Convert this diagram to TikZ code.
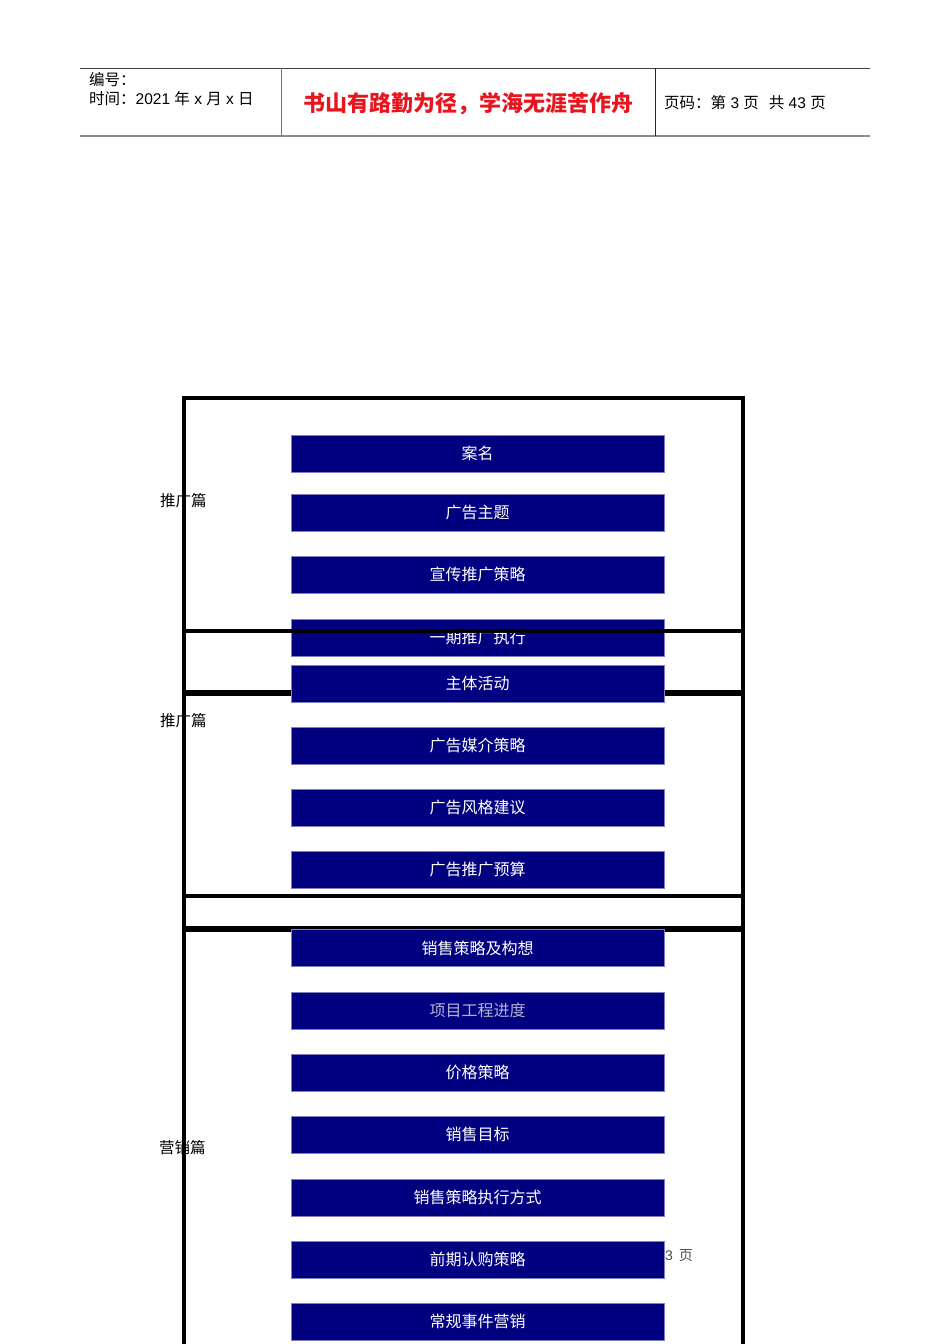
\documentclass[tikz,border=0pt]{standalone}
\usepackage{fontspec}
\setmainfont{Noto Sans CJK SC}
\newfontfamily\latinfont{Liberation Sans}
\usetikzlibrary{positioning}
\definecolor{barblue}{HTML}{000080}
\definecolor{barline}{HTML}{8080C0}
\definecolor{titlered}{HTML}{E8141E}

\tikzset{
  bar/.style={draw=barline, fill=barblue, text=white, minimum width=373pt,
    minimum height=37pt, inner sep=0pt, font=\fontsize{16}{16}\selectfont},
  frame/.style={black, line width=4pt},
  side/.style={anchor=west, inner sep=0pt, font=\fontsize{15.5}{15.5}\selectfont},
  head/.style={anchor=west, inner sep=0pt, font=\fontsize{15.5}{15.5}\selectfont}
}

\begin{document}
\begin{tikzpicture}[x=1pt,y=-1pt]
\useasboundingbox (0,0) rectangle (950,1344);

% header
\draw[black!75, line width=1pt] (80,68)--(870,68);
\draw[black!45, line width=1.6pt] (80,136)--(870,136);
\draw[black!55, line width=1pt] (281,68)--(281,136);
\draw[black!85, line width=1pt] (655,68)--(655,136);

\node[head] (num) at (89,80) {编号：};
\node[head] (date) at (89,99) {时间：{\latinfont 2021 }年{\latinfont\ x }月{\latinfont\ x }日};
\node[anchor=center, inner sep=0pt, text=titlered, font=\fontsize{22}{22}\selectfont\bfseries] (motto) at (468,104) {书山有路勤为径，学海无涯苦作舟};
\node[head] (page) at (664,103) {页码：第{\latinfont\ 3 }页\hspace{10pt}共{\latinfont\ 43 }页};

% section labels
\node[side] (promo1) at (160,501) {推广篇};
\node[side] (promo2) at (160,721) {推广篇};
\node[side] (sales) at (159,1148) {营销篇};
\node[anchor=west, inner sep=0pt, text=black!70, font=\fontsize{14}{14}\selectfont] (foot) at (665,1256) {{\latinfont 3}\hspace{6pt}页};

% first part bars
\node[bar] (b1) at (477.5,453.5) {案名};
\node[bar] (b2) at (477.5,512.5) {广告主题};
\node[bar] (b3) at (477.5,574.5) {宣传推广策略};
\node[bar] (b4) at (477.5,637.5) {一期推广执行};

% frames
\draw[frame] (184,398) rectangle (743,631);
\draw[frame] (184,631) rectangle (743,692);
\draw[frame] (184,694) rectangle (743,896);
\draw[frame] (184,896) rectangle (743,928);
\draw[frame] (184,930) rectangle (743,1370);

% remaining bars
\node[bar] (b5) at (477.5,683.5) {主体活动};
\node[bar] (b6) at (477.5,745.5) {广告媒介策略};
\node[bar] (b7) at (477.5,807.5) {广告风格建议};
\node[bar] (b8) at (477.5,869.5) {广告推广预算};

\node[bar] (b9) at (477.5,948) {销售策略及构想};
\node[bar, text=barline!60!white] (b10) at (477.5,1010.5) {项目工程进度};
\node[bar] (b11) at (477.5,1072.5) {价格策略};
\node[bar] (b12) at (477.5,1134.5) {销售目标};
\node[bar] (b13) at (477.5,1197.5) {销售策略执行方式};
\node[bar] (b14) at (477.5,1259.5) {前期认购策略};
\node[bar] (b15) at (477.5,1321.5) {常规事件营销};

\end{tikzpicture}
\end{document}
